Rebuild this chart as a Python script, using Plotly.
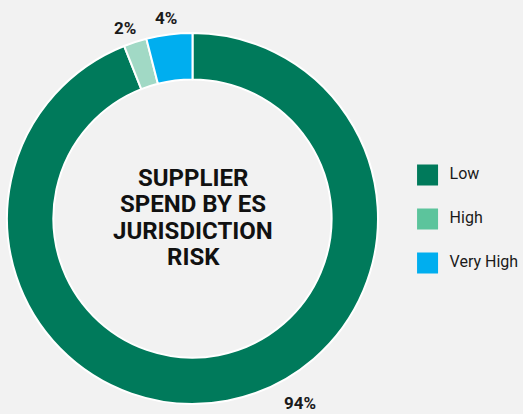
import plotly.graph_objects as go

categories = ["Low", "High", "Very High"]
values = [94, 2, 4]
slice_colors = ["#007A5B", "#A1D9C5", "#00AEEF"]
legend_colors = ["#007A5B", "#5CC49C", "#00AEEF"]
center_title_lines = ["SUPPLIER", "SPEND BY ES", "JURISDICTION", "RISK"]

FONT = "Roboto, Liberation Sans, sans-serif"
BG = "#F2F2F2"
W, H = 523, 414

fig = go.Figure()

fig.add_trace(go.Pie(
    labels=categories,
    values=values,
    sort=False,
    direction="clockwise",
    rotation=0,
    hole=0.75,
    marker=dict(colors=slice_colors, line=dict(color="white", width=2)),
    textinfo="none",
    hoverinfo="label+percent",
    showlegend=False,
    domain=dict(x=[7/W, 378/W], y=[(H-404)/H, (H-33)/H]),
))

# Legend drawn as a scatter on a hidden categorical axis
fig.add_trace(go.Scatter(
    x=[0] * len(categories),
    y=categories,
    mode="markers+text",
    marker=dict(symbol="square", size=21, color=legend_colors),
    text=["  " + c for c in categories],
    textposition="middle right",
    textfont=dict(family=FONT, size=16, color="#1a1a1a"),
    hoverinfo="skip",
    showlegend=False,
    cliponaxis=False,
))

# Percentage labels
label_pos = {"Low": (300, 403), "High": (125, 28.5), "Very High": (165.5, 18)}
annotations = []
for c, v in zip(categories, values):
    px, py = label_pos[c]
    annotations.append(dict(
        x=px/W, y=1 - py/H, xref="paper", yref="paper",
        text=f"<b>{v}%</b>", showarrow=False,
        font=dict(family=FONT, size=17, color="#1a1a1a"),
        xanchor="center", yanchor="middle",
    ))
for i, line in enumerate(center_title_lines):
    cy = 177.5 + 26.5 * i
    annotations.append(dict(
        x=193/W, y=1 - cy/H, xref="paper", yref="paper",
        text=f"<b>{line}</b>", showarrow=False,
        font=dict(family=FONT, size=24, color="#111111"),
        xanchor="center", yanchor="middle", align="center",
    ))

fig.update_layout(
    width=W, height=H,
    margin=dict(l=0, r=0, t=0, b=0),
    paper_bgcolor=BG, plot_bgcolor=BG,
    annotations=annotations,
    xaxis=dict(domain=[0.75, 1.0], range=[-0.27, 0.73], visible=False, fixedrange=True),
    yaxis=dict(domain=[(195-66)/H, (195+66)/H], type="category",
               categoryorder="array", categoryarray=categories,
               range=[2.5, -0.5], visible=False, fixedrange=True),
)

fig.write_html(
    "out.html",
    config={"displayModeBar": False},
    post_script="document.body.style.margin='0';document.body.style.padding='0';"
                "document.body.style.background='" + BG + "';",
)
